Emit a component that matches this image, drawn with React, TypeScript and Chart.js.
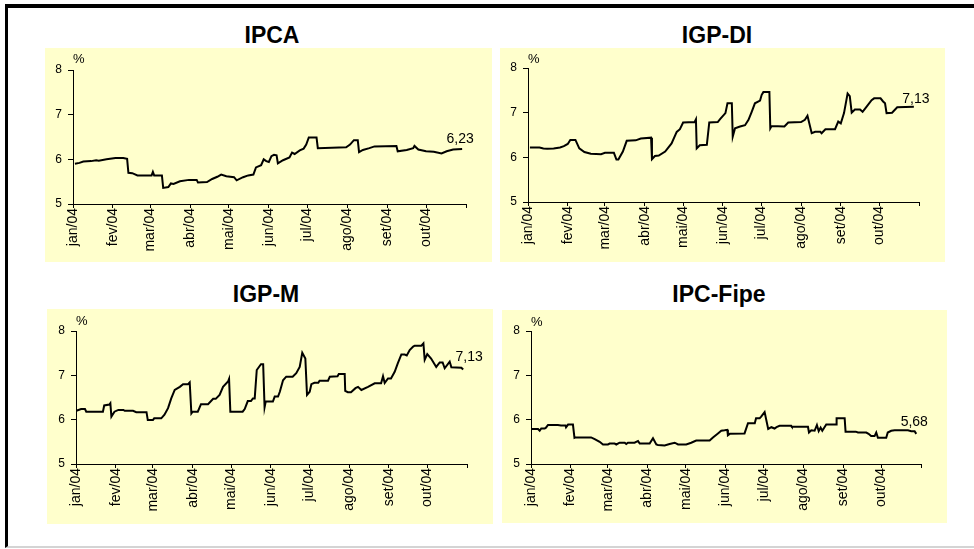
import React, { useEffect, useRef } from 'react';
import { Chart, registerables } from 'chart.js';

Chart.register(...registerables);

const FONT = '"Liberation Sans", Arial, Helvetica, sans-serif';
Chart.defaults.font.family = FONT;
Chart.defaults.color = '#000';

// x axis: day of year 2004 (0 = 1 Jan), ticks at first day of each month
const monthTickDays = [0, 31, 60, 91, 121, 152, 182, 213, 244, 274, 305];
const monthLabels = ['jan/04', 'fev/04', 'mar/04', 'abr/04', 'mai/04', 'jun/04', 'jul/04', 'ago/04', 'set/04', 'out/04', ''];
const yTickValues = [5, 6, 7, 8];

// IPCA
const ipcaDays = [1.5, 5, 8, 14, 18, 20, 26, 33, 39, 42, 43, 46, 50, 61, 62, 63, 69, 70, 74, 76, 78, 83, 90, 96, 97, 104, 108, 112, 115, 119, 125, 127, 132, 136, 140, 142, 146, 148, 150, 152, 154, 156, 158, 159, 163, 168, 170, 172, 176, 179, 181, 183, 189, 190, 212, 215, 218, 221, 222, 225, 230, 234, 251, 252, 259, 264, 265, 268, 274, 280, 286, 290, 295, 302];
const ipcaValues = [5.9, 5.92, 5.95, 5.96, 5.98, 5.97, 6.0, 6.03, 6.03, 6.01, 5.70, 5.69, 5.64, 5.64, 5.72, 5.64, 5.64, 5.36, 5.38, 5.46, 5.45, 5.51, 5.54, 5.54, 5.48, 5.49, 5.56, 5.61, 5.66, 5.62, 5.6, 5.53, 5.6, 5.64, 5.66, 5.82, 5.87, 6.0, 5.96, 5.94, 6.07, 6.1, 6.09, 5.91, 5.98, 6.04, 6.15, 6.12, 6.2, 6.24, 6.33, 6.49, 6.49, 6.25, 6.27, 6.33, 6.43, 6.43, 6.16, 6.21, 6.25, 6.29, 6.30, 6.18, 6.21, 6.25, 6.30, 6.22, 6.18, 6.17, 6.13, 6.18, 6.22, 6.23];

// IGP-DI
const igpdiDays = [1.5, 9, 12, 15, 20, 25, 28, 31, 33, 37, 40, 44, 49, 57, 60, 67, 69, 70.5, 74, 77, 84, 88, 96, 96.7, 99, 102, 107, 112, 116, 118.5, 121, 130, 131, 131.6, 134, 139.5, 141.4, 148, 150, 154, 155.6, 159, 159.7, 161.5, 165.4, 169.3, 172, 174.5, 177, 181, 182.3, 183.6, 188.3, 189, 190, 200, 203, 213, 216, 218, 221.3, 224, 228, 229, 232, 239.5, 242, 244, 246.5, 249.3, 251, 252.5, 255, 259, 261, 264, 268, 270, 275, 277, 278.5, 279.7, 284, 288, 301];
const igpdiValues = [6.22, 6.22, 6.2, 6.19, 6.2, 6.22, 6.25, 6.3, 6.39, 6.39, 6.2, 6.12, 6.08, 6.07, 6.10, 6.10, 5.95, 5.95, 6.13, 6.37, 6.38, 6.42, 6.44, 5.96, 6.03, 6.04, 6.13, 6.31, 6.57, 6.63, 6.78, 6.79, 6.85, 6.2, 6.27, 6.28, 6.78, 6.79, 6.86, 6.99, 7.21, 7.21, 6.46, 6.65, 6.69, 6.72, 6.84, 7.02, 7.21, 7.27, 7.40, 7.46, 7.46, 6.65, 6.70, 6.69, 6.78, 6.79, 6.84, 6.93, 6.54, 6.57, 6.57, 6.54, 6.63, 6.63, 6.80, 6.76, 6.99, 7.43, 7.37, 7.0, 7.07, 7.07, 7.02, 7.13, 7.28, 7.32, 7.32, 7.25, 7.21, 6.99, 7.0, 7.12, 7.13];

// IGP-M
const igpmDays = [0.3, 4, 7, 8, 21, 22, 26, 26.8, 27.6, 30, 33, 37, 38, 44.5, 47, 55, 56, 60, 61, 66.5, 69, 71.8, 74.3, 77, 81, 83.5, 87.4, 88.7, 90, 91, 95, 97.5, 103, 107, 109, 112, 114.7, 118.6, 119.4, 120.4, 130, 131.6, 134, 136.5, 138, 139.4, 141, 144.3, 146, 147.1, 148, 153.6, 155, 157.6, 159, 161.5, 164, 169, 171.8, 174.5, 176.5, 178.9, 180.2, 182.3, 183.6, 186, 189, 190, 196.6, 198, 204, 205, 209.6, 210, 212, 214.5, 218, 220, 222.6, 227.8, 233, 238, 239.5, 240.8, 243.4, 245.7, 248.6, 251, 253.8, 256.4, 258, 260.3, 263, 264.2, 269.4, 271, 272, 274, 277, 281, 283.7, 286, 287.6, 291.5, 292.8, 300.6, 302];
const igpmValues = [6.20, 6.24, 6.24, 6.18, 6.18, 6.32, 6.34, 6.37, 6.07, 6.18, 6.22, 6.22, 6.20, 6.20, 6.17, 6.17, 5.99, 5.99, 6.03, 6.03, 6.11, 6.26, 6.48, 6.67, 6.74, 6.80, 6.80, 6.84, 6.14, 6.18, 6.18, 6.35, 6.35, 6.47, 6.47, 6.56, 6.74, 6.86, 6.92, 6.18, 6.18, 6.24, 6.42, 6.42, 6.48, 6.48, 7.12, 7.25, 7.25, 6.28, 6.41, 6.41, 6.52, 6.52, 6.63, 6.89, 6.97, 6.97, 7.05, 7.19, 7.51, 7.38, 6.56, 6.63, 6.80, 6.83, 6.83, 6.88, 6.88, 6.97, 6.98, 7.03, 7.03, 6.65, 6.62, 6.62, 6.71, 6.74, 6.67, 6.74, 6.82, 6.82, 6.98, 6.83, 6.93, 6.93, 7.08, 7.27, 7.47, 7.47, 7.45, 7.57, 7.65, 7.67, 7.67, 7.72, 7.35, 7.48, 7.38, 7.19, 7.29, 7.29, 7.16, 7.31, 7.18, 7.17, 7.13];

// IPC-Fipe
const fipeDays = [0.3, 5.5, 6.8, 8, 10.7, 11.7, 13.3, 21, 23.5, 27, 27.4, 29, 32.8, 34, 35, 47, 49.8, 53.7, 56.3, 60.2, 61.5, 65.4, 66.7, 69.3, 73.3, 74.5, 75.8, 81, 83.7, 85, 92.8, 95.4, 98, 99.3, 104.5, 108.4, 112.4, 115, 121.4, 125.3, 129.2, 139.7, 142.3, 146.2, 148.8, 151.4, 153.5, 154, 155.4, 167, 169.7, 175, 176, 178.8, 180, 182.7, 185.5, 188, 190.5, 192, 194.4, 203.5, 204, 216.6, 217.4, 219.2, 221.8, 223.6, 225, 226.5, 227.8, 230.9, 238.7, 239, 245.3, 246, 254, 255.7, 262.2, 264, 266, 268.7, 270, 271.3, 277.8, 279, 281.7, 284.4, 294.8, 297.3, 300, 301.3];
const fipeValues = [5.79, 5.79, 5.75, 5.80, 5.80, 5.82, 5.88, 5.88, 5.87, 5.87, 5.83, 5.89, 5.89, 5.59, 5.60, 5.60, 5.56, 5.50, 5.44, 5.44, 5.46, 5.46, 5.44, 5.48, 5.48, 5.45, 5.48, 5.48, 5.52, 5.46, 5.46, 5.58, 5.44, 5.43, 5.42, 5.45, 5.48, 5.44, 5.44, 5.48, 5.53, 5.53, 5.60, 5.69, 5.75, 5.76, 5.77, 5.65, 5.68, 5.69, 5.92, 5.92, 6.03, 6.03, 6.07, 6.17, 5.79, 5.83, 5.80, 5.83, 5.86, 5.86, 5.84, 5.84, 5.71, 5.76, 5.75, 5.88, 5.74, 5.82, 5.75, 5.89, 5.89, 6.03, 6.03, 5.73, 5.73, 5.71, 5.71, 5.68, 5.63, 5.63, 5.71, 5.59, 5.59, 5.71, 5.75, 5.76, 5.76, 5.74, 5.74, 5.68];

const titles = ['IPCA', 'IGP-DI', 'IGP-M', 'IPC-Fipe'];
const lastLabels = ['6,23', '7,13', '7,13', '5,68'];

type Layout = {
  left: number; top: number; width: number; height: number;
  plotLeft: number; plotTop: number; plotRight: number; xAxisH: number;
  titleX: number; titleBaseline: number;
  pctDy: number; lblDx: number; lblDy: number;
};

const layouts: Layout[] = [
  { left: 45, top: 48, width: 447, height: 214, plotLeft: 28, plotTop: 22, plotRight: 26, xAxisH: 58, titleX: 272, titleBaseline: 43, pctDy: 7, lblDx: -2, lblDy: 6 },
  { left: 500, top: 48, width: 445, height: 214, plotLeft: 28, plotTop: 20, plotRight: 26, xAxisH: 60, titleX: 717, titleBaseline: 43, pctDy: 5, lblDx: 2, lblDy: 4 },
  { left: 47, top: 309, width: 446, height: 215, plotLeft: 29, plotTop: 22, plotRight: 26, xAxisH: 60, titleX: 266, titleBaseline: 302, pctDy: 6, lblDx: 6, lblDy: 9 },
  { left: 502, top: 310, width: 445, height: 213, plotLeft: 29, plotTop: 21, plotRight: 26, xAxisH: 59, titleX: 719, titleBaseline: 302, pctDy: 5, lblDx: -2, lblDy: 8 },
];

const seriesDays = [ipcaDays, igpdiDays, igpmDays, fipeDays];
const seriesValues = [ipcaValues, igpdiValues, igpmValues, fipeValues];

function Panel({ idx }: { idx: number }) {
  const ref = useRef<HTMLCanvasElement>(null);
  const lay = layouts[idx];
  useEffect(() => {
    const days = seriesDays[idx];
    const values = seriesValues[idx];
    const overlay = {
      id: 'overlay' + idx,
      afterDraw(chart: any) {
        const ctx = chart.ctx;
        const area = chart.chartArea;
        ctx.save();
        ctx.fillStyle = '#000';
        ctx.font = '13px ' + FONT;
        ctx.textAlign = 'left';
        ctx.textBaseline = 'alphabetic';
        ctx.fillText('%', area.left, area.top - lay.pctDy);
        const px = chart.scales.x.getPixelForValue(days[days.length - 1]);
        const py = chart.scales.y.getPixelForValue(values[values.length - 1]);
        ctx.font = '14px ' + FONT;
        ctx.textAlign = 'center';
        ctx.fillText(lastLabels[idx], px + lay.lblDx, py - lay.lblDy);
        ctx.restore();
      },
    };
    const chart = new Chart(ref.current as HTMLCanvasElement, {
      type: 'line',
      data: {
        datasets: [
          {
            data: days.map((d, i) => ({ x: d, y: values[i] })),
            borderColor: '#000',
            borderWidth: 2,
            pointRadius: 0,
            tension: 0,
            fill: false,
          },
        ],
      },
      options: {
        animation: false,
        responsive: false,
        maintainAspectRatio: false,
        events: [],
        layout: { padding: { left: 0, top: lay.plotTop, right: lay.plotRight, bottom: 0 } },
        plugins: { legend: { display: false }, tooltip: { enabled: false }, title: { display: false } },
        scales: {
          x: {
            type: 'linear',
            min: 0,
            max: 305,
            afterBuildTicks: (s: any) => {
              s.ticks = monthTickDays.map((v) => ({ value: v }));
            },
            afterFit: (s: any) => {
              s.height = lay.xAxisH;
            },
            ticks: {
              autoSkip: false,
              maxRotation: 90,
              minRotation: 90,
              padding: 0,
              font: { size: 14 },
              color: '#000',
              callback: (_v: any, i: number) => monthLabels[i],
            },
            grid: { drawOnChartArea: false, drawTicks: true, tickLength: 4, color: '#000' },
            border: { color: '#000', width: 1 },
          },
          y: {
            min: 5,
            max: 8,
            afterBuildTicks: (s: any) => {
              s.ticks = yTickValues.map((v) => ({ value: v }));
            },
            afterFit: (s: any) => {
              s.width = lay.plotLeft;
            },
            ticks: { padding: 6, font: { size: 12 }, color: '#000' },
            grid: { drawOnChartArea: false, drawTicks: true, tickLength: 5, color: '#000' },
            border: { color: '#000', width: 1 },
          },
        },
      } as any,
      plugins: [overlay],
    });
    return () => chart.destroy();
  }, [idx]);

  return (
    <>
      <div
        style={{
          position: 'absolute',
          left: lay.titleX - 120,
          width: 240,
          top: lay.titleBaseline - 19.5,
          textAlign: 'center',
          fontFamily: FONT,
          fontWeight: 'bold',
          fontSize: 23,
          lineHeight: '23px',
          color: '#000',
          whiteSpace: 'nowrap',
        }}
      >
        {titles[idx]}
      </div>
      <div
        style={{
          position: 'absolute',
          left: lay.left,
          top: lay.top,
          width: lay.width,
          height: lay.height,
          background: '#FFFFCC',
        }}
      >
        <canvas ref={ref} width={lay.width} height={lay.height} style={{ display: 'block', width: lay.width, height: lay.height }} />
      </div>
    </>
  );
}

export default function App() {
  return (
    <div
      style={{
        position: 'fixed',
        left: 0,
        top: 0,
        width: 974,
        height: 549,
        background: '#fff',
        overflow: 'hidden',
      }}
    >
      <div
        style={{
          position: 'absolute',
          left: 5,
          top: 4,
          width: 969,
          height: 544,
          boxSizing: 'border-box',
          borderTop: '4px solid #000',
          borderLeft: '3px solid #000',
          borderBottom: '2px solid #d4d4d4',
        }}
      />
      {[0, 1, 2, 3].map((i) => (
        <Panel key={i} idx={i} />
      ))}
    </div>
  );
}
